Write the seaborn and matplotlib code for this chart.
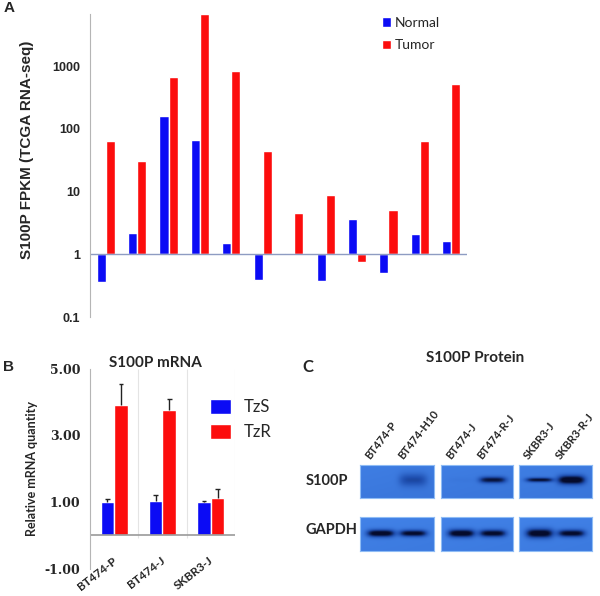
import numpy as np
import pandas as pd
import matplotlib
matplotlib.use('Agg')
import matplotlib.pyplot as plt
import seaborn as sns
from matplotlib.colors import LinearSegmentedColormap

# panel A - TCGA RNA-seq FPKM, 12 tissue pairs
tissue_idx = list(range(12))
normal_fpkm = [0.36, 2.2, 158, 66, 1.54, 0.39, 1.03, 0.37, 3.6, 0.50, 2.07, 1.63]
tumor_fpkm = [65, 31, 680, 6650, 830, 45, 4.5, 8.9, 0.75, 5.0, 63, 514]
a_ticks = [0.1, 1, 10, 100, 1000]

# panel B - qPCR
cell_lines = ['BT474-P', 'BT474-J', 'SKBR3-J']
tzs_mrna = [1.00, 1.03, 1.00]
tzs_err = [0.10, 0.19, 0.03]
tzr_mrna = [3.93, 3.77, 1.13]
tzr_err = [0.63, 0.32, 0.25]
b_ticks = [-1, 1, 3, 5]

# panel C - western blot (band strength / thickness per lane)
lane_names = [['BT474-P', 'BT474-H10'], ['BT474-J', 'BT474-R-J'], ['SKBR3-J', 'SKBR3-R-J']]
s100p_level = [[0.0, 0.45], [0.03, 0.85], [0.9, 1.1]]
s100p_thick = [[0.10, 0.20], [0.08, 0.10], [0.07, 0.14]]
gapdh_level = [[1.1, 1.0], [1.1, 1.0], [1.1, 1.0]]
gapdh_thick = [[0.11, 0.10], [0.12, 0.11], [0.14, 0.11]]
lane_pos = [0.28, 0.72]

BLUE = '#0b0bf5'
RED = '#fc0d0d'

sns.set_style('white')
plt.rcParams['font.family'] = ['Liberation Sans', 'DejaVu Sans']

fig = plt.figure(figsize=(6, 5.96), dpi=100)
W, H = 600, 596


def box(x0, y0, x1, y1):
    return [x0 / W, 1 - y1 / H, (x1 - x0) / W, (y1 - y0) / H]


# ---------- A ----------
axA = fig.add_axes(box(90, 14, 467, 317))
df_a = pd.DataFrame({
    'tissue': tissue_idx * 2,
    'logv': np.log10(normal_fpkm + tumor_fpkm),
    'group': ['Normal'] * 12 + ['Tumor'] * 12,
})
sns.barplot(data=df_a, x='tissue', y='logv', hue='group',
            palette={'Normal': BLUE, 'Tumor': RED}, width=0.58,
            saturation=1, ax=axA)
axA.axhline(0, color='#8e9cc2', lw=1)
axA.set_xlim(-0.5, 11.5)
axA.set_ylim(-1, 3.83)
axA.set_yticks(np.log10(a_ticks))
axA.set_yticklabels([f'{t:g}' for t in a_ticks], fontsize=9, fontweight='bold')
axA.set_xticks([])
axA.set_xlabel('')
axA.set_ylabel('')
for s in ['top', 'right', 'bottom']:
    axA.spines[s].set_visible(False)
axA.spines['left'].set_color('#b5b5b5')
axA.tick_params(axis='y', direction='out', length=4, color='#b5b5b5', pad=3)
h, l = axA.get_legend_handles_labels()
axA.legend(h, l, loc='upper left', bbox_to_anchor=(382 / W, 1 - 17 / H),
           bbox_transform=fig.transFigure, frameon=False, borderpad=0,
           borderaxespad=0, handlelength=0.65, handleheight=0.65,
           handletextpad=0.3, labelspacing=0.75,
           prop={'family': 'Lato', 'size': 10})
fig.text(27 / W, 1 - 150 / H, 'S100P FPKM (TCGA RNA-seq)', rotation=90,
         ha='center', va='center', fontsize=11, fontweight='bold')
fig.text(9 / W, 1 - 8 / H, 'A', ha='center', va='center', fontsize=11, fontweight='bold')

# ---------- B ----------
axB = fig.add_axes(box(90, 369, 235, 568.5))
df_b = pd.DataFrame({
    'cell': cell_lines * 2,
    'val': tzs_mrna + tzr_mrna,
    'grp': ['TzS'] * 3 + ['TzR'] * 3,
})
sns.barplot(data=df_b, x='cell', y='val', hue='grp',
            palette={'TzS': BLUE, 'TzR': RED}, width=0.565,
            saturation=1, ax=axB)
# one-sided error bars (upper only)
for cont, err in zip(axB.containers, [tzs_err, tzr_err]):
    xs = np.array([b.get_x() + b.get_width() / 2 for b in cont])
    ys = np.array([b.get_height() for b in cont])
    tops = ys + np.array(err)
    axB.vlines(xs, ys, tops, color='#222222', lw=1)
    axB.hlines(tops, xs - 0.045, xs + 0.045, color='#222222', lw=1)
axB.vlines([0.5, 1.5, 2.5], -0.08, 5, color='#e4e4e4', lw=0.8, zorder=0)
axB.axhline(0, color='#9a9a9a', lw=1.2)
axB.set_xlim(-0.5, 2.5)
axB.set_ylim(-1, 5)
axB.set_yticks(b_ticks)
axB.set_yticklabels([f'{t:.2f}' for t in b_ticks], fontsize=9,
                    fontweight='bold', family='DejaVu Serif')
axB.set_xticks([])
for i, name in enumerate(cell_lines):
    axB.text(i + 0.02, -0.72, name, rotation=38, ha='right', va='center',
             rotation_mode='anchor', fontsize=8.5, fontweight='bold',
             family='Lato', clip_on=False)
axB.tick_params(axis='y', direction='out', length=4, color='#b5b5b5', pad=3)
axB.set_xlabel('')
axB.set_ylabel('')
for s in ['top', 'right', 'bottom']:
    axB.spines[s].set_visible(False)
axB.spines['left'].set_color('#b5b5b5')
h, l = axB.get_legend_handles_labels()
axB.legend(h, l, loc='upper left', bbox_to_anchor=(210 / W, 1 - 399 / H),
           bbox_transform=fig.transFigure, frameon=False, borderpad=0,
           borderaxespad=0, handlelength=1.25, handleheight=1.05,
           handletextpad=0.75, labelspacing=0.5,
           prop={'family': 'Lato', 'size': 12})
fig.text(155 / W, 1 - 363 / H, 'S100P mRNA', ha='center', va='center',
         fontsize=11, fontweight='bold', family='Lato')
fig.text(32 / W, 1 - 469 / H, 'Relative mRNA quantity', rotation=90,
         ha='center', va='center', fontsize=9, fontweight='bold', family='Lato')
fig.text(9 / W, 1 - 367 / H, 'B', ha='center', va='center', fontsize=11, fontweight='bold')

# ---------- C ----------
blot_cmap = LinearSegmentedColormap.from_list('blot', ['#4384ea', '#1f4fb0', '#050b2c'])
xs_img = np.linspace(0, 1, 120)
ys_img = np.linspace(0, 1, 50)
XX, YY = np.meshgrid(xs_img, ys_img)
box_x = [(360, 434), (441, 513), (519, 592)]
rows = [((465, 498), s100p_level, s100p_thick, 0.55, 0.06),
        ((517, 551), gapdh_level, gapdh_thick, 0.52, 0.02)]

for (y0, y1), levels, thicks, yc, shade in rows:
    for k, (x0, x1) in enumerate(box_x):
        ax = fig.add_axes(box(x0, y0, x1, y1))
        img = shade + 0.05 * (1 - YY) + 0.03 * XX
        for j, c in enumerate(lane_pos):
            lv = levels[k][j]
            th = thicks[k][j]
            fx = np.exp(-((XX - c) / 0.19) ** 4)
            fy = np.exp(-((YY - yc) / th) ** 2)
            img = img + lv * fx * fy
        ax.imshow(np.clip(img, 0, 1), cmap=blot_cmap, vmin=0, vmax=1,
                  origin='lower', extent=(0, 1, 0, 1), aspect='auto',
                  interpolation='bilinear')
        ax.set_xticks([])
        ax.set_yticks([])
        for s in ax.spines.values():
            s.set_color('#8fbcf5')
            s.set_linewidth(0.8)
        if y0 == 465:
            for j, c in enumerate(lane_pos):
                ax.text(c - 0.12, 1.12, lane_names[k][j], transform=ax.transAxes,
                        rotation=52, rotation_mode='anchor', ha='left', va='bottom',
                        fontsize=8, fontweight='bold', family='Lato')

fig.text(306 / W, 1 - 481 / H, 'S100P', ha='left', va='center',
         fontsize=10.5, fontweight='bold', family='Lato')
fig.text(306 / W, 1 - 530 / H, 'GAPDH', ha='left', va='center',
         fontsize=10.5, fontweight='bold', family='Lato')
fig.text(475 / W, 1 - 358 / H, 'S100P Protein', ha='center', va='center',
         fontsize=11, fontweight='bold', family='Lato')
fig.text(308 / W, 1 - 367 / H, 'C', ha='center', va='center',
         fontsize=12, fontweight='bold', family='Lato')

fig.savefig('out.png', dpi=100, facecolor='white')
